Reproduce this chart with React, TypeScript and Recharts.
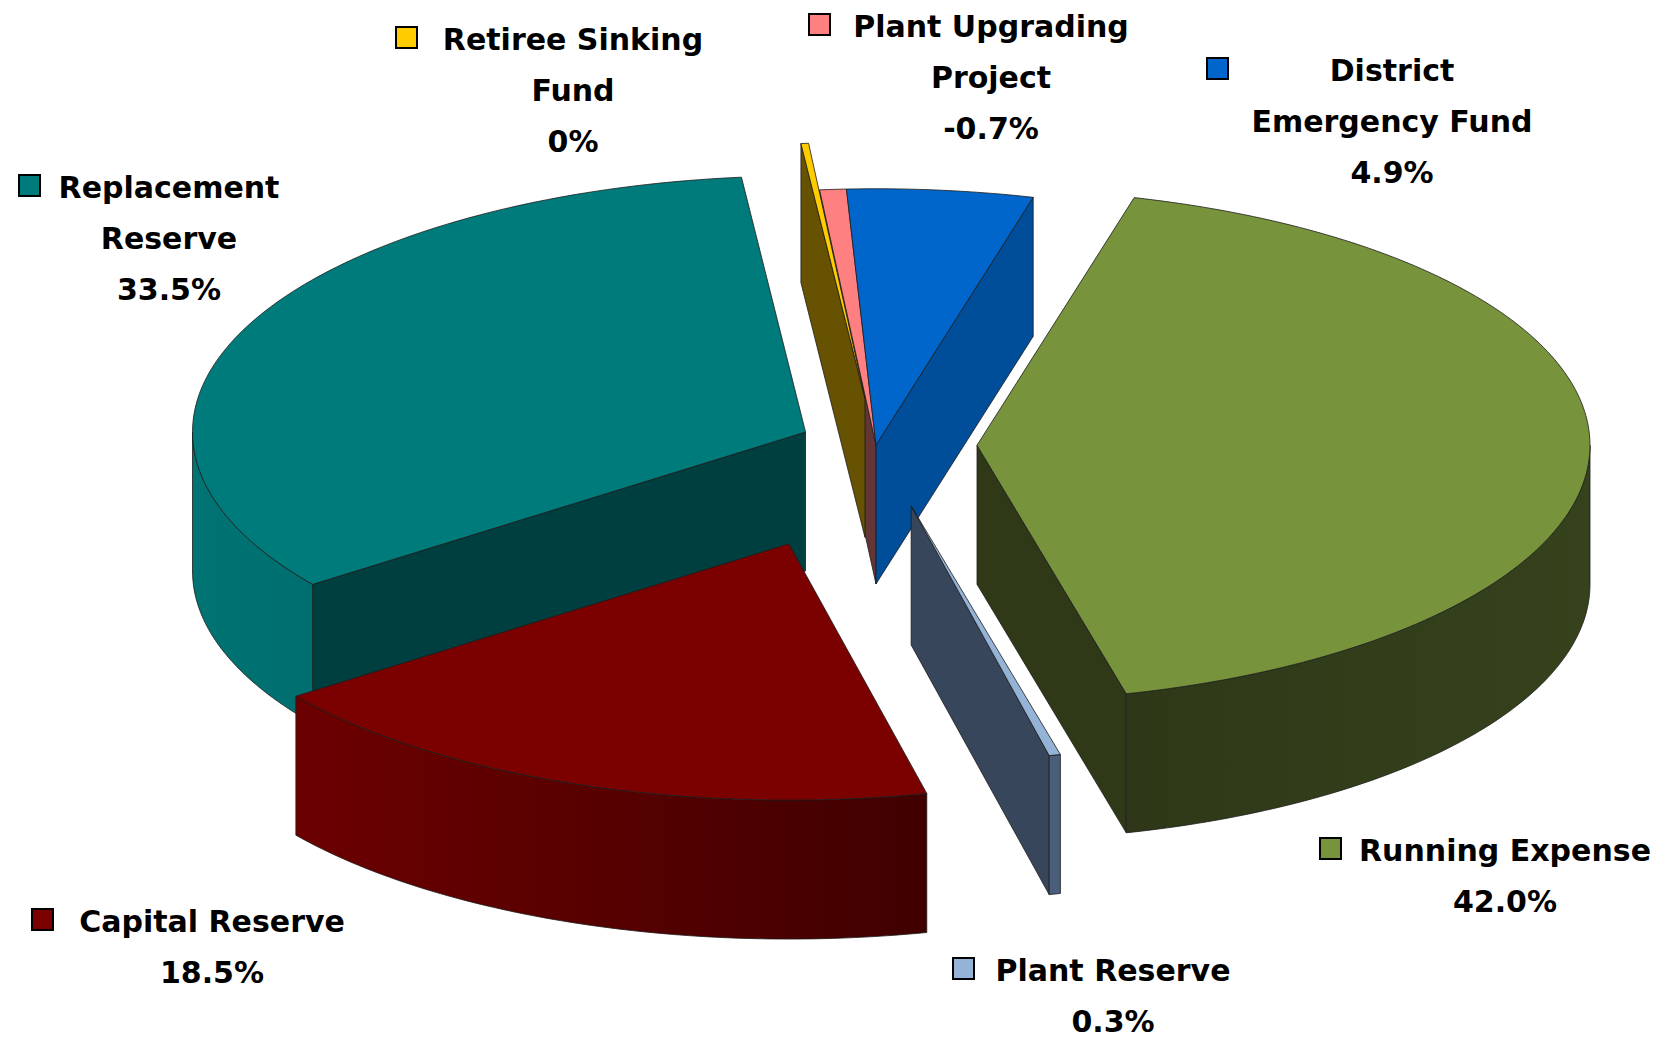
import React from 'react'
import { PieChart, Pie } from 'recharts'

// slices listed clockwise from 12 o'clock
const names = [
  'Retiree Sinking Fund',
  'Plant Upgrading Project',
  'District Emergency Fund',
  'Running Expense',
  'Plant Reserve',
  'Capital Reserve',
  'Replacement Reserve',
]
const shares = [0.2, -0.7, 4.9, 42.0, 0.3, 18.5, 33.5]
const shareText = ['0%', '-0.7%', '4.9%', '42.0%', '0.3%', '18.5%', '33.5%']
const labelRows = [
  ['Retiree Sinking', 'Fund'],
  ['Plant Upgrading', 'Project'],
  ['District', 'Emergency Fund'],
  ['Running Expense'],
  ['Plant Reserve'],
  ['Capital Reserve'],
  ['Replacement', 'Reserve'],
]

const data = names.map((name, i) => ({ name, value: Math.abs(shares[i]) }))

const LOOK: Record<string, { top: string; face: string; wallFrom: string; wallTo: string; explode: number }> = {
  'Retiree Sinking Fund': { top: '#FFCC00', face: '#665200', wallFrom: '#806600', wallTo: '#665200', explode: 112 },
  'Plant Upgrading Project': { top: '#FF8080', face: '#633535', wallFrom: '#994d4d', wallTo: '#803f3f', explode: 0 },
  'District Emergency Fund': { top: '#0066CC', face: '#004D99', wallFrom: '#004D99', wallTo: '#004080', explode: 0 },
  'Running Expense': { top: '#77933C', face: '#2F3918', wallFrom: '#2E3818', wallTo: '#36421C', explode: 101 },
  'Plant Reserve': { top: '#95B3D7', face: '#37465A', wallFrom: '#4A5D7A', wallTo: '#4A5D7A', explode: 150 },
  'Capital Reserve': { top: '#7B0000', face: '#4A0000', wallFrom: '#6C0000', wallTo: '#400000', explode: 252 },
  'Replacement Reserve': { top: '#007B7B', face: '#003F3F', wallFrom: '#007373', wallTo: '#006E6E', explode: 77 },
}

// where each data label sits (centre of first text row, legend key x)
const LABEL_AT: Record<string, { x: number; y: number; keyX: number }> = {
  'Retiree Sinking Fund': { x: 573, y: 39, keyX: 406 },
  'Plant Upgrading Project': { x: 991, y: 26, keyX: 819 },
  'District Emergency Fund': { x: 1392, y: 70, keyX: 1217 },
  'Running Expense': { x: 1505, y: 850, keyX: 1330 },
  'Plant Reserve': { x: 1113, y: 970, keyX: 963 },
  'Capital Reserve': { x: 212, y: 921, keyX: 42 },
  'Replacement Reserve': { x: 169, y: 187, keyX: 29 },
}

// painter's order for the side walls
const WALL_ORDER = [
  'Plant Upgrading Project',
  'Retiree Sinking Fund',
  'District Emergency Fund',
  'Replacement Reserve',
  'Running Expense',
  'Plant Reserve',
  'Capital Reserve',
]

const TILT = 0.418
const DEPTH = 139
const RAD = Math.PI / 180
const LINE = 51
const FONT = "'Comic Sans MS', 'DejaVu Sans', sans-serif"
const EDGE = '#1c1c1c'

type Pt = [number, number]

const rim = (ox: number, oy: number, r: number, a: number): Pt => [
  ox + r * Math.cos(a * RAD),
  oy - r * TILT * Math.sin(a * RAD),
]

function arc(ox: number, oy: number, r: number, from: number, to: number, dy = 0): Pt[] {
  const n = Math.max(2, Math.ceil(Math.abs(from - to)) + 1)
  const pts: Pt[] = []
  for (let k = 0; k < n; k++) {
    const a = from + ((to - from) * k) / (n - 1)
    const [x, y] = rim(ox, oy, r, a)
    pts.push([x, y + dy])
  }
  return pts
}

const toPath = (pts: Pt[]) => 'M' + pts.map((p) => p[0].toFixed(2) + ',' + p[1].toFixed(2)).join('L') + 'Z'

function origin(p: any): Pt {
  const e = LOOK[p.name].explode
  return [p.cx + e * Math.cos(p.midAngle * RAD), p.cy - e * TILT * Math.sin(p.midAngle * RAD)]
}

function renderWalls(p: any, only: string) {
  if (p.name !== only) return null
  const look = LOOK[p.name]
  const i = names.indexOf(p.name)
  const [ox, oy] = origin(p)
  const r = p.outerRadius
  const s = p.startAngle
  const e = p.endAngle
  const prev = LOOK[names[(i + names.length - 1) % names.length]].explode
  const next = LOOK[names[(i + 1) % names.length]].explode
  const face = (a: number) => {
    const [x, y] = rim(ox, oy, r, a)
    return toPath([[ox, oy], [x, y], [x, y + DEPTH], [ox, oy + DEPTH]])
  }
  const parts: React.ReactNode[] = []
  if (Math.cos(s * RAD) < 0 && prev !== look.explode) {
    parts.push(<path key="fs" d={face(s)} fill={look.face} stroke={EDGE} strokeWidth={0.8} strokeLinejoin="round" />)
  }
  if (Math.cos(e * RAD) > 0 && next !== look.explode) {
    parts.push(<path key="fe" d={face(e)} fill={look.face} stroke={EDGE} strokeWidth={0.8} strokeLinejoin="round" />)
  }
  const hi = Math.min(s, 0)
  const lo = Math.max(e, -180)
  if (hi > lo) {
    const top = arc(ox, oy, r, hi, lo)
    const bottom = arc(ox, oy, r, lo, hi, DEPTH)
    const xs = top.map((q) => q[0])
    const id = 'wall-' + i
    parts.push(
      <defs key="d">
        <linearGradient id={id} gradientUnits="userSpaceOnUse" x1={Math.min(...xs)} x2={Math.max(...xs)} y1={0} y2={0}>
          <stop offset="0%" stopColor={look.wallFrom} />
          <stop offset="100%" stopColor={look.wallTo} />
        </linearGradient>
      </defs>,
    )
    parts.push(
      <path key="w" d={toPath([...top, ...bottom])} fill={`url(#${id})`} stroke={EDGE} strokeWidth={0.8} strokeLinejoin="round" />,
    )
  }
  return <g>{parts}</g>
}

function renderTop(p: any) {
  const look = LOOK[p.name]
  const i = names.indexOf(p.name)
  const [ox, oy] = origin(p)
  const pts: Pt[] = [[ox, oy], ...arc(ox, oy, p.outerRadius, p.startAngle, p.endAngle)]
  const at = LABEL_AT[p.name]
  const rows = [...labelRows[i], shareText[i]]
  return (
    <g>
      <path d={toPath(pts)} fill={look.top} stroke={EDGE} strokeWidth={0.8} strokeLinejoin="round" />
      <g fontFamily={FONT} fontWeight="bold" fontSize={30} fill="#000">
        <rect x={at.keyX - 10} y={at.y - 12} width={21} height={21} fill={look.top} stroke="#000" strokeWidth={2} />
        {rows.map((t, k) => (
          <text key={k} x={at.x} y={at.y + k * LINE} textAnchor="middle" dominantBaseline="central">
            {t}
          </text>
        ))}
      </g>
    </g>
  )
}

const pieProps = {
  data,
  dataKey: 'value',
  nameKey: 'name',
  cx: 876,
  cy: 445,
  innerRadius: 0,
  outerRadius: 613,
  startAngle: 96,
  endAngle: -264,
  fill: 'none',
  stroke: 'none',
  labelLine: false,
  isAnimationActive: false,
}

export default function App() {
  return (
    <div style={{ width: 1662, height: 1040, background: '#fff' }}>
      <style>{'body{margin:0;background:#fff}'}</style>
      <PieChart width={1662} height={1040} margin={{ top: 0, right: 0, bottom: 0, left: 0 }}>
        {WALL_ORDER.map((name) => (
          <Pie key={name} {...pieProps} label={(p: any) => renderWalls(p, name)} isAnimationActive={false} />
        ))}
        <Pie {...pieProps} label={renderTop} isAnimationActive={false} />
      </PieChart>
    </div>
  )
}
